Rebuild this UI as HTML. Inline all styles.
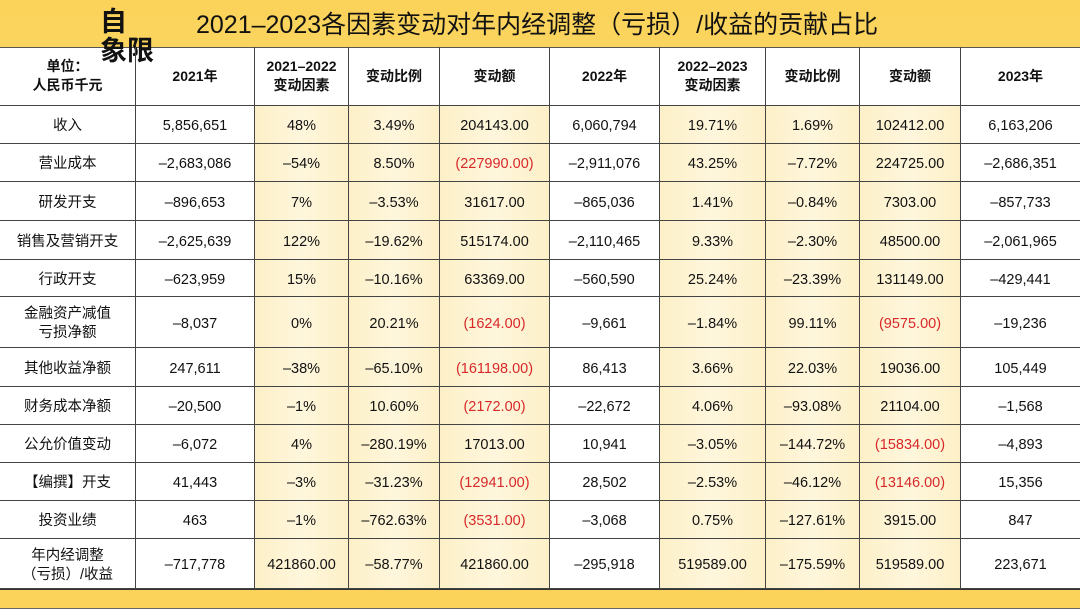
<!DOCTYPE html>
<html><head><meta charset="utf-8"><style>
body{margin:0;width:1080px;height:611px;overflow:hidden;background:#fff;font-family:"Liberation Sans","Noto Sans CJK SC",sans-serif;position:relative}
#title{position:absolute;left:0;top:0;width:1080px;height:47px;background:linear-gradient(#fbd35a,#fad45e);border-bottom:1px solid #555}
#title span{position:absolute;left:196px;top:5px;font-size:25px;color:#111}
#logo{position:absolute;left:100px;top:8px;font-size:27px;font-weight:bold;line-height:29px;color:#111}
#foot{position:absolute;left:0;top:589px;width:1080px;height:18px;background:#fbd35a;border-top:1px solid #333;border-bottom:1px solid #666}
.c{position:absolute;display:flex;align-items:center;justify-content:center;text-align:center;font-size:14.5px;color:#111;border-right:1px solid #444;border-bottom:1px solid #444;box-sizing:border-box;line-height:19px;padding-top:4px}
.s{background:linear-gradient(90deg,#fdf0c8,#fef6dc,#fdf0c8)}
.h{font-weight:bold;font-size:14px;padding-top:0}
.r{color:#d8282a}
</style></head><body>
<div id="title"><span>2021–2023各因素变动对年内经调整（亏损）/收益的贡献占比</span></div>
<div id="logo">自<br>象限</div>
<div id="tbl"></div>
<div id="foot"></div>
<script>
const headers=["单位：<br>人民币千元","2021年","2021–2022<br>变动因素","变动比例","变动额","2022年","2022–2023<br>变动因素","变动比例","变动额","2023年"];
const rows=[
["收入","5,856,651","48%","3.49%","204143.00","6,060,794","19.71%","1.69%","102412.00","6,163,206"],
["营业成本","–2,683,086","–54%","8.50%","(227990.00)","–2,911,076","43.25%","–7.72%","224725.00","–2,686,351"],
["研发开支","–896,653","7%","–3.53%","31617.00","–865,036","1.41%","–0.84%","7303.00","–857,733"],
["销售及营销开支","–2,625,639","122%","–19.62%","515174.00","–2,110,465","9.33%","–2.30%","48500.00","–2,061,965"],
["行政开支","–623,959","15%","–10.16%","63369.00","–560,590","25.24%","–23.39%","131149.00","–429,441"],
["金融资产减值<br>亏损净额","–8,037","0%","20.21%","(1624.00)","–9,661","–1.84%","99.11%","(9575.00)","–19,236"],
["其他收益净额","247,611","–38%","–65.10%","(161198.00)","86,413","3.66%","22.03%","19036.00","105,449"],
["财务成本净额","–20,500","–1%","10.60%","(2172.00)","–22,672","4.06%","–93.08%","21104.00","–1,568"],
["公允价值变动","–6,072","4%","–280.19%","17013.00","10,941","–3.05%","–144.72%","(15834.00)","–4,893"],
["【编撰】开支","41,443","–3%","–31.23%","(12941.00)","28,502","–2.53%","–46.12%","(13146.00)","15,356"],
["投资业绩","463","–1%","–762.63%","(3531.00)","–3,068","0.75%","–127.61%","3915.00","847"],
["年内经调整<br>（亏损）/收益","–717,778","421860.00","–58.77%","421860.00","–295,918","519589.00","–175.59%","519589.00","223,671"]];
const colX=[0,136,255,349,440,550,660,766,860,961,1080];
const rowY=[47,106,144,182,221,260,297,348,387,425,463,501,539,589];
const shaded=[2,3,4,6,7,8];
const tbl=document.getElementById('tbl');
function cell(r,c,html){
 const d=document.createElement('div');
 
 
 d.className='c'+(r===0?' h':'')+(r>0&&shaded.includes(c)?' s':'')+(/^\(/.test(html)?' r':'');
 d.style.left=colX[c]+'px';d.style.top=rowY[r]+'px';
 d.style.width=(colX[c+1]-colX[c])+'px';d.style.height=(rowY[r+1]-rowY[r])+'px';
 if(c===9)d.style.borderRight='none';
 d.innerHTML=html;tbl.appendChild(d);
}
headers.forEach((h,c)=>cell(0,c,h));
rows.forEach((row,i)=>row.forEach((v,c)=>cell(i+1,c,v)));
</script>
</body></html>
